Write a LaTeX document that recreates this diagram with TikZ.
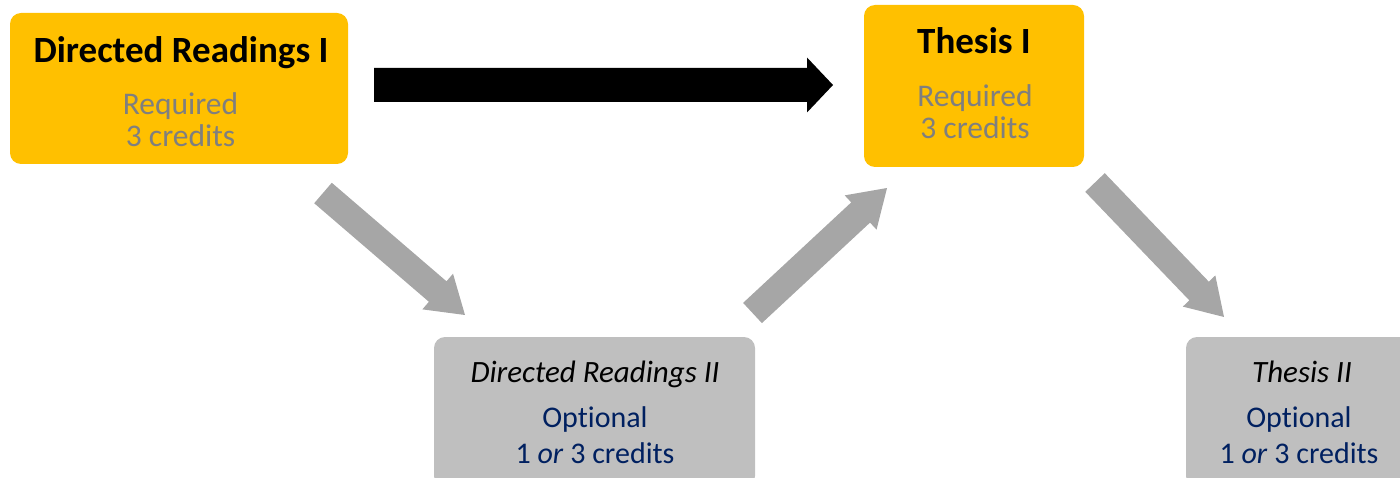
\documentclass[tikz,border=0pt]{standalone}
\usepackage{fontspec}
\setmainfont[Ligatures=NoCommon]{Carlito}
\usetikzlibrary{calc}
\definecolor{boxorange}{HTML}{FFC000}
\definecolor{boxgray}{HTML}{BFBFBF}
\definecolor{arrowgray}{HTML}{A6A6A6}
\definecolor{subgray}{HTML}{7F7F7F}
\definecolor{optblue}{HTML}{002060}
% #1 colour, #2 start coordinate, #3 end coordinate, #4 shaft half width, #5 head half width, #6 head length
\newcommand\blockarrow[6]{%
  \coordinate (#2-h) at ($(#3)!#6!(#2)$);
  \fill[#1] ($(#2)!#4!90:(#3)$) -- ($(#2-h)!#4!90:(#3)$) -- ($(#2-h)!#5!90:(#3)$)
    -- (#3) -- ($(#2-h)!#5!-90:(#3)$) -- ($(#2-h)!#4!-90:(#3)$) -- ($(#2)!#4!-90:(#3)$) -- cycle;
}
\begin{document}
\begin{tikzpicture}[x=1pt,y=-1pt,
  reqbox/.style={fill=boxorange, rounded corners=11pt, inner sep=0pt},
  optbox/.style={fill=boxgray, rounded corners=11pt, inner sep=0pt},
  reqtitle/.style={anchor=base, inner sep=0pt, font=\fontsize{37}{44}\selectfont\bfseries},
  optitle/.style={anchor=base, inner sep=0pt, font=\fontsize{31}{37}\selectfont\itshape},
  reqtext/.style={anchor=base, inner sep=0pt, text=subgray, font=\fontsize{31.5}{37}\selectfont},
  optext/.style={anchor=base, inner sep=0pt, text=optblue, font=\fontsize{30}{36}\selectfont}]
\useasboundingbox (0,0) rectangle (1400,478);
\clip (0,0) rectangle (1400,478);
% boxes
\node[reqbox, minimum width=338pt, minimum height=151pt] (dr1) at (179,88.5) {};
\node[reqbox, minimum width=220pt, minimum height=162pt] (th1) at (974,86) {};
\node[optbox, minimum width=321pt, minimum height=150pt] (dr2) at (594.5,412) {};
\node[optbox, minimum width=228pt, minimum height=150pt] (th2) at (1300,412) {};
% texts
\node[reqtitle] (dr1t) at (181,63) {Directed Readings I};
\node[reqtext] (dr1r) at (180.5,115) {Required};
\node[reqtext] (dr1c) at (180.5,147) {3 credits};
\node[reqtitle] (th1t) at (974,54) {Thesis I};
\node[reqtext] (th1r) at (975,107) {Required};
\node[reqtext] (th1c) at (975,139) {3 credits};
\node[optitle] (dr2t) at (595,382) {Directed Readings II};
\node[optext] (dr2o) at (595,427) {Optional};
\node[optext] (dr2c) at (595,463) {1 \textit{or} 3 credits};
\node[optitle] (th2t) at (1302,382) {Thesis II};
\node[optext] (th2o) at (1299,427) {Optional};
\node[optext] (th2c) at (1299,463) {1 \textit{or} 3 credits};
% arrows
\coordinate (a0s) at (374,85);
\coordinate (a0e) at (833,85);
\coordinate (a1s) at (323,193);
\coordinate (a1e) at (465,315);
\coordinate (a2s) at (752.5,313);
\coordinate (a2e) at (887,188);
\coordinate (a3s) at (1095,182.5);
\coordinate (a3e) at (1224,317);
\blockarrow{black}{a0s}{a0e}{17pt}{27.5pt}{26pt}
\blockarrow{arrowgray}{a1s}{a1e}{13.5pt}{23.5pt}{36pt}
\blockarrow{arrowgray}{a2s}{a2e}{13.8pt}{23.4pt}{36pt}
\blockarrow{arrowgray}{a3s}{a3e}{13.5pt}{22.5pt}{36pt}
\end{tikzpicture}
\end{document}
